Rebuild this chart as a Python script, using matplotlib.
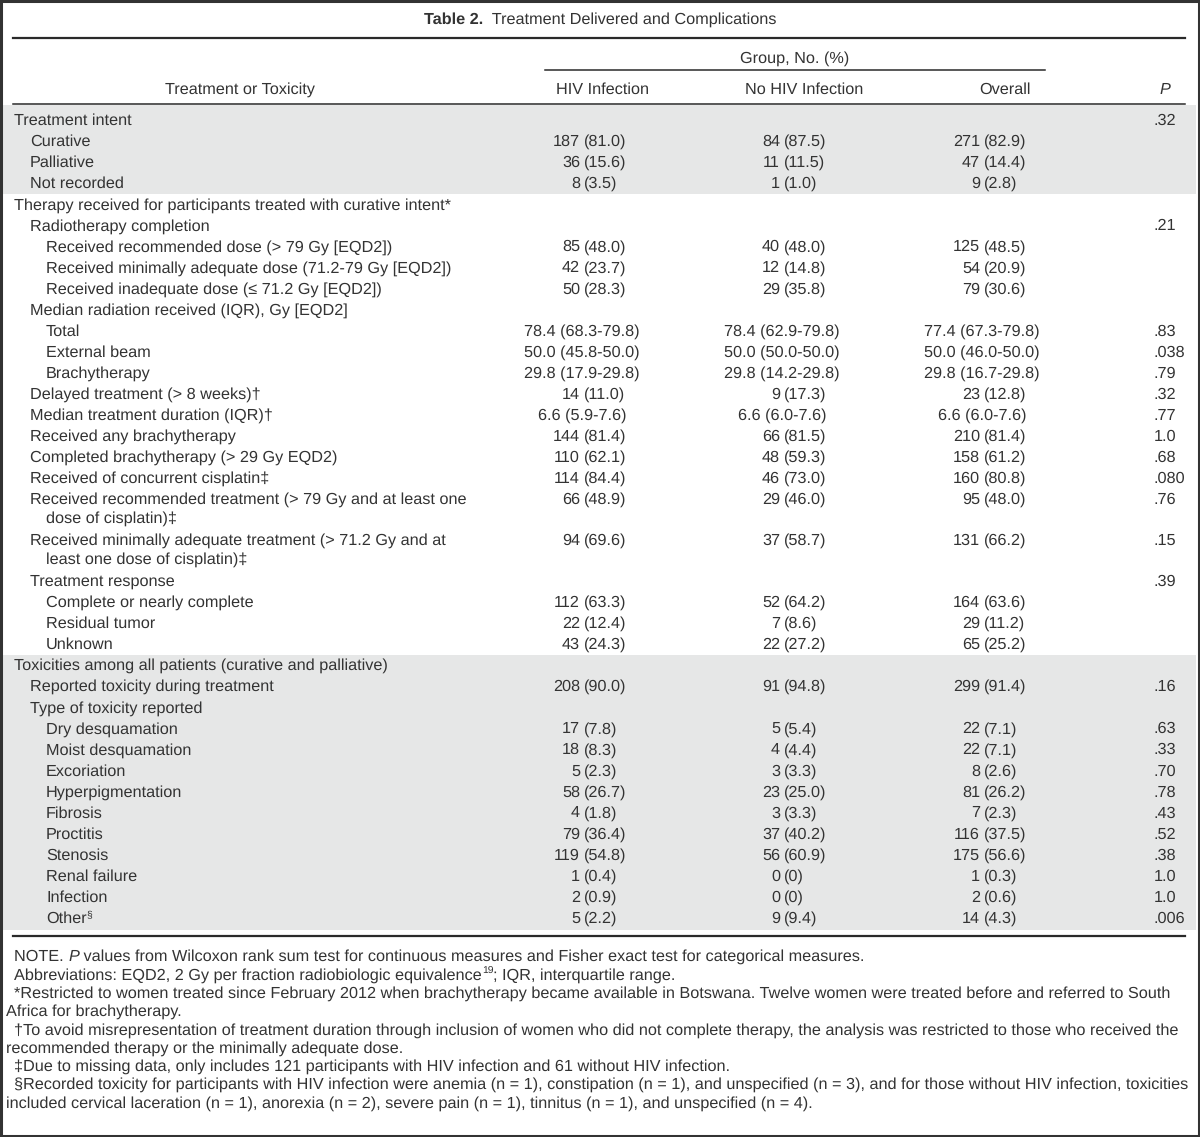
import matplotlib.pyplot as plt
from matplotlib.patches import Rectangle

plt.rcParams['font.family'] = ['Liberation Sans', 'DejaVu Sans']
plt.rcParams['text.hinting'] = 'no_hinting'

# ---- table content ----
title_bold = "Table 2."
title_rest = "  Treatment Delivered and Complications"
group_header = "Group, No. (%)"
col_headers = ["Treatment or Toxicity", "HIV Infection", "No HIV Infection", "Overall"]

labels = [
    "Treatment intent", "Curative", "Palliative", "Not recorded",
    "Therapy received for participants treated with curative intent*",
    "Radiotherapy completion",
    "Received recommended dose (> 79 Gy [EQD2])",
    "Received minimally adequate dose (71.2-79 Gy [EQD2])",
    "Received inadequate dose (≤ 71.2 Gy [EQD2])",
    "Median radiation received (IQR), Gy [EQD2]",
    "Total", "External beam", "Brachytherapy",
    "Delayed treatment (> 8 weeks)†",
    "Median treatment duration (IQR)†",
    "Received any brachytherapy",
    "Completed brachytherapy (> 29 Gy EQD2)",
    "Received of concurrent cisplatin‡",
    "Received recommended treatment (> 79 Gy and at least one\ndose of cisplatin)‡",
    "Received minimally adequate treatment (> 71.2 Gy and at\nleast one dose of cisplatin)‡",
    "Treatment response", "Complete or nearly complete", "Residual tumor", "Unknown",
    "Toxicities among all patients (curative and palliative)",
    "Reported toxicity during treatment", "Type of toxicity reported",
    "Dry desquamation", "Moist desquamation", "Excoriation", "Hyperpigmentation",
    "Fibrosis", "Proctitis", "Stenosis", "Renal failure", "Infection", "Other",
]
levels = [0, 1, 1, 1,
          0, 1, 2, 2, 2,
          1, 2, 2, 2,
          1, 1, 1, 1, 1, 1, 1,
          1, 2, 2, 2,
          0, 1, 1,
          2, 2, 2, 2, 2, 2, 2, 2, 2, 2]

hiv = ["", "187 (81.0)", "36 (15.6)", "8 (3.5)", "", "",
       "85 (48.0)", "42 (23.7)", "50 (28.3)", "",
       "78.4 (68.3-79.8)", "50.0 (45.8-50.0)", "29.8 (17.9-29.8)",
       "14 (11.0)", "6.6 (5.9-7.6)", "144 (81.4)", "110 (62.1)", "114 (84.4)",
       "66 (48.9)", "94 (69.6)", "", "112 (63.3)", "22 (12.4)", "43 (24.3)",
       "", "208 (90.0)", "", "17 (7.8)", "18 (8.3)", "5 (2.3)", "58 (26.7)",
       "4 (1.8)", "79 (36.4)", "119 (54.8)", "1 (0.4)", "2 (0.9)", "5 (2.2)"]
no_hiv = ["", "84 (87.5)", "11 (11.5)", "1 (1.0)", "", "",
          "40 (48.0)", "12 (14.8)", "29 (35.8)", "",
          "78.4 (62.9-79.8)", "50.0 (50.0-50.0)", "29.8 (14.2-29.8)",
          "9 (17.3)", "6.6 (6.0-7.6)", "66 (81.5)", "48 (59.3)", "46 (73.0)",
          "29 (46.0)", "37 (58.7)", "", "52 (64.2)", "7 (8.6)", "22 (27.2)",
          "", "91 (94.8)", "", "5 (5.4)", "4 (4.4)", "3 (3.3)", "23 (25.0)",
          "3 (3.3)", "37 (40.2)", "56 (60.9)", "0 (0)", "0 (0)", "9 (9.4)"]
overall = ["", "271 (82.9)", "47 (14.4)", "9 (2.8)", "", "",
           "125 (48.5)", "54 (20.9)", "79 (30.6)", "",
           "77.4 (67.3-79.8)", "50.0 (46.0-50.0)", "29.8 (16.7-29.8)",
           "23 (12.8)", "6.6 (6.0-7.6)", "210 (81.4)", "158 (61.2)", "160 (80.8)",
           "95 (48.0)", "131 (66.2)", "", "164 (63.6)", "29 (11.2)", "65 (25.2)",
           "", "299 (91.4)", "", "22 (7.1)", "22 (7.1)", "8 (2.6)", "81 (26.2)",
           "7 (2.3)", "116 (37.5)", "175 (56.6)", "1 (0.3)", "2 (0.6)", "14 (4.3)"]
p_values = [".32", "", "", "", "", ".21", "", "", "", "",
            ".83", ".038", ".79", ".32", ".77", "1.0", ".68", ".080", ".76", ".15",
            ".39", "", "", "", "", ".16", "",
            ".63", ".33", ".70", ".78", ".43", ".52", ".38", "1.0", "1.0", ".006"]
shaded_groups = [(0, 3), (24, 36)]

footnotes = [
    "*Restricted to women treated since February 2012 when brachytherapy became available in Botswana. Twelve women were treated before and referred to South\nAfrica for brachytherapy.",
    "†To avoid misrepresentation of treatment duration through inclusion of women who did not complete therapy, the analysis was restricted to those who received the\nrecommended therapy or the minimally adequate dose.",
    "‡Due to missing data, only includes 121 participants with HIV infection and 61 without HIV infection.",
    "§Recorded toxicity for participants with HIV infection were anemia (n = 1), constipation (n = 1), and unspecified (n = 3), and for those without HIV infection, toxicities\nincluded cervical laceration (n = 1), anorexia (n = 2), severe pain (n = 1), tinnitus (n = 1), and unspecified (n = 4).",
]

# ---- layout ----
W, H = 1200, 1137
FS = 11.7
FS_NOTE = 11.7
TXT = '#333333'
RULE = '#2a2a2a'
SHADE = '#e6e7e7'

fig = plt.figure(figsize=(W / 100, H / 100), dpi=100)
ax = fig.add_axes([0, 0, 1, 1])
ax.set_xlim(0, W)
ax.set_ylim(H, 0)
ax.axis('off')
renderer = fig.canvas.get_renderer()


def runs(x, y, parts, fs):
    """draw consecutive pieces of text: (txt, extra props, raise in px)"""
    for txt, props, dy in parts:
        size = props.get('fontsize', fs)
        extra = {k: v for k, v in props.items() if k != 'fontsize'}
        t = ax.text(x, y - dy, txt, va='baseline', ha='left', color=TXT, fontsize=size, **extra)
        x += t.get_window_extent(renderer).width
    return x


# title
t1 = ax.text(0, 24, title_bold, fontsize=FS, fontweight='bold', color=TXT, va='baseline')
t2 = ax.text(0, 24, title_rest, fontsize=FS, color=TXT, va='baseline')
w1 = t1.get_window_extent(renderer).width
w2 = t2.get_window_extent(renderer).width
x0 = W / 2 - (w1 + w2) / 2
t1.set_x(x0)
t2.set_x(x0 + w1)

# rules
ax.plot([13, 1185], [38, 38], color=RULE, lw=1.6)
ax.plot([545, 1045], [70, 70], color=RULE, lw=1.1)
ax.plot([13, 1185], [104, 104], color=RULE, lw=1.1)
ax.plot([13, 1185], [936, 936], color=RULE, lw=1.6)

# headers
ax.text(795, 63, group_header, ha='center', va='baseline', fontsize=FS, color=TXT)
for x, h in zip([240, 603, 804, 1005], col_headers):
    ax.text(x, 94, h, ha='center', va='baseline', fontsize=FS, color=TXT)
ax.text(1165, 94, "P", ha='center', va='baseline', fontsize=FS, color=TXT, style='italic')

# row positions
ys = []
y = 120.0
for lab in labels:
    ys.append(y)
    y += 21.05 if '\n' not in lab else 41.0

# shading
for a, b in shaded_groups:
    top = 105 if a == 0 else (ys[a - 1] + ys[a]) / 2
    bot = (ys[b] + ys[b + 1]) / 2 if b + 1 < len(ys) else 930
    ax.add_patch(Rectangle((3, top), 1193, bot - top, color=SHADE, lw=0, zorder=0))

indent_x = [14, 30, 46]
anchors = [584, 784, 984]


def put_value(xa, yb, s):
    if not s:
        return
    if '-' in s:
        ax.text(xa - 2, yb, s, ha='center', va='baseline', fontsize=FS, color=TXT)
    else:
        num, rest = s.split(' ', 1)
        ax.text(xa - 4, yb, num, ha='right', va='baseline', fontsize=FS, color=TXT)
        ax.text(xa, yb, rest, ha='left', va='baseline', fontsize=FS, color=TXT)


for i, lab in enumerate(labels):
    yb = ys[i] + 5
    xl = indent_x[levels[i]]
    lines = lab.split('\n')
    if lab == "Other":
        runs(xl, yb, [("Other", {}, 0), ("§", {'fontsize': 7.5}, 5)], FS)
    else:
        ax.text(xl, yb, lines[0], ha='left', va='baseline', fontsize=FS, color=TXT)
        for j, ln in enumerate(lines[1:], 1):
            ax.text(xl + 16, yb + 18.5 * j, ln, ha='left', va='baseline', fontsize=FS, color=TXT)
    for xa, col in zip(anchors, [hiv, no_hiv, overall]):
        put_value(xa, yb, col[i])
    if p_values[i]:
        ax.text(1154, yb, p_values[i], ha='left', va='baseline', fontsize=FS, color=TXT)

# footnotes
fy = 961
runs(14, fy, [("NOTE. ", {}, 0), ("P", {'style': 'italic'}, 0),
              (" values from Wilcoxon rank sum test for continuous measures and Fisher exact test for categorical measures.", {}, 0)],
     FS_NOTE)
fy += 18.3
runs(14, fy, [("Abbreviations: EQD2, 2 Gy per fraction radiobiologic equivalence", {}, 0),
              ("19", {'fontsize': 7.5}, 5), ("; IQR, interquartile range.", {}, 0)], FS_NOTE)
for fn in footnotes:
    for j, ln in enumerate(fn.split('\n')):
        fy += 18.3
        ax.text(14 if j == 0 else 6, fy, ln, ha='left', va='baseline', fontsize=FS_NOTE, color=TXT)

# outer frame
ax.add_patch(Rectangle((1, 1), W - 2, H - 2, fill=False, edgecolor='#333333', lw=2.2))

fig.savefig('out.png', dpi=100)
